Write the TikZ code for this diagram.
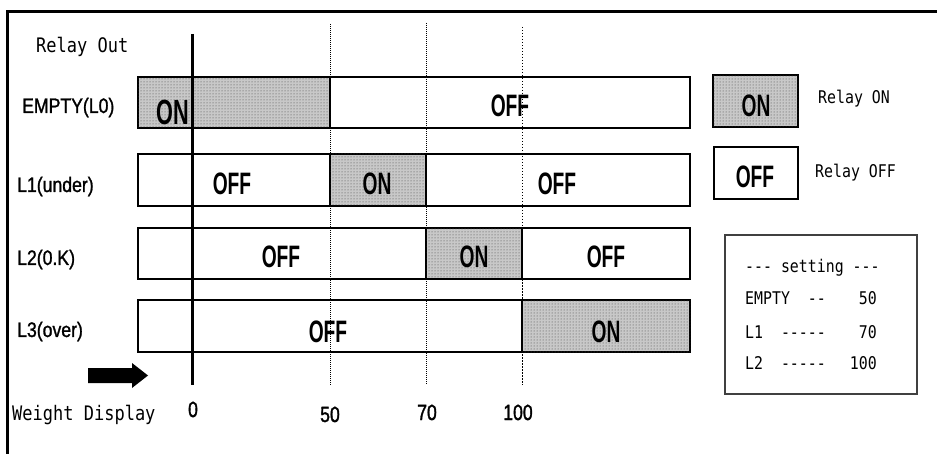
\documentclass[tikz,border=0pt]{standalone}
\usepackage{fontspec}
\setmainfont{Liberation Sans}
\newfontfamily\monofnt[FakeStretch=0.85]{DejaVu Sans Mono}
\newfontfamily\narrowfnt[FakeStretch=0.62]{Liberation Sans Bold}
\newfontfamily\rowfnt[FakeStretch=0.84,FakeBold=1.2]{Liberation Sans}
\newfontfamily\tickfnt[FakeStretch=0.8,FakeBold=1.5]{Liberation Sans}
\usetikzlibrary{patterns}

\begin{document}
\begin{tikzpicture}[x=1pt,y=-1pt,
  onbar/.style={draw=black, line width=1.5pt, fill=onGray,
    postaction={pattern=dots, pattern color=black!75}},
  offbar/.style={draw=black, line width=1.5pt, fill=white},
  statetxt/.style={font=\narrowfnt\fontsize{31}{31}\selectfont, anchor=base, inner sep=0pt},
  rowtxt/.style={font=\rowfnt\fontsize{21}{21}\selectfont, anchor=base west, inner sep=0pt},
  monotxt/.style={font=\monofnt\fontsize{20}{20}\selectfont, anchor=base west, inner sep=0pt},
  smalltxt/.style={font=\monofnt\fontsize{17.5}{17.5}\selectfont, anchor=base west, inner sep=0pt},
  ticktxt/.style={font=\tickfnt\fontsize{22}{22}\selectfont, anchor=base, inner sep=0pt},
  markline/.style={dash pattern=on 1pt off 1pt, line width=1pt}]

% Colori
\definecolor{onGray}{HTML}{C8C8C8}
\definecolor{boxGray}{HTML}{404040}

\useasboundingbox (0,0) rectangle (937,454);

% Cornice
\draw[line width=3pt] (7,454) -- (7,11.5) -- (937,11.5);

% Titolo
\node[monotxt] (relayout) at (36,53) {Relay Out};

% Riga EMPTY
\draw[onbar] (138,77) rectangle (330,128);
\draw[offbar] (330,77) rectangle (690,128);
\node[rowtxt] (emptylab) at (22,113) {EMPTY(L0)};
\node[statetxt, font=\narrowfnt\fontsize{35}{35}\selectfont] (emptyon) at (173,125) {ON};
\node[statetxt] (emptyoff) at (510,117) {OFF};

% Riga L1
\draw[offbar] (138,154) rectangle (330,206);
\draw[onbar] (330,154) rectangle (426,206);
\draw[offbar] (426,154) rectangle (690,206);
\node[rowtxt] (lonelab) at (17,192) {L1(under)};
\node[statetxt] (loneoffa) at (232,195) {OFF};
\node[statetxt] (loneon) at (377,195) {ON};
\node[statetxt] (loneoffb) at (557,195) {OFF};

% Riga L2
\draw[offbar] (138,228) rectangle (426,279);
\draw[onbar] (426,228) rectangle (522,279);
\draw[offbar] (522,228) rectangle (690,279);
\node[rowtxt] (ltwolab) at (17,265) {L2(0.K)};
\node[statetxt] (ltwooffa) at (281,268) {OFF};
\node[statetxt] (ltwoon) at (474,268) {ON};
\node[statetxt] (ltwooffb) at (606,268) {OFF};

% Riga L3
\draw[offbar] (138,300) rectangle (522,352);
\draw[onbar] (522,300) rectangle (690,352);
\node[rowtxt] (lthreelab) at (17,337) {L3(over)};
\node[statetxt] (lthreeoff) at (328,342) {OFF};
\node[statetxt] (lthreeon) at (606,342) {ON};

% Linee di soglia
\draw[line width=3pt] (192,34) -- (192,385);
\draw[markline] (330,24) -- (330,385);
\draw[markline] (426,23) -- (426,385);
\draw[markline, dash pattern=on 1.5pt off 1.5pt] (522,27) -- (522,385);

% Freccia e asse
\fill (88,368) -- (132,368) -- (132,363) -- (148,375.5) -- (132,388)
  -- (132,383) -- (88,383) -- cycle;
\node[monotxt] (weightlab) at (12,420) {Weight Display};
\node[ticktxt] (tickzero) at (193,417) {0};
\node[ticktxt] (tickfifty) at (330,422) {50};
\node[ticktxt] (tickseventy) at (427,420) {70};
\node[ticktxt] (tickhundred) at (518,420) {100};

% Legenda
\draw[onbar, line width=2pt] (713,75) rectangle (798,127);
\node[statetxt] (legon) at (756,117) {ON};
\node[smalltxt] (legontxt) at (818,104) {Relay ON};
\draw[offbar, line width=2pt] (714,147) rectangle (798,199);
\node[statetxt] (legoff) at (755,188) {OFF};
\node[smalltxt] (legofftxt) at (815,178) {Relay OFF};

% Impostazioni
\draw[draw=boxGray, line width=2.5pt] (725,235) rectangle (917,394);
\node[smalltxt] (sethead) at (745,273) {-{}-{}-\ setting\ -{}-{}-};
\node[smalltxt] (setempty) at (745,305) {EMPTY\ \ -{}-};
\node[smalltxt] (setlone) at (745,338) {L1\ \ -{}-{}-{}-{}-};
\node[smalltxt] (setltwo) at (745,369) {L2\ \ -{}-{}-{}-{}-};
\node[smalltxt, anchor=base east] (valempty) at (877,305) {50};
\node[smalltxt, anchor=base east] (vallone) at (877,338) {70};
\node[smalltxt, anchor=base east] (valltwo) at (877,369) {100};

\end{tikzpicture}
\end{document}
